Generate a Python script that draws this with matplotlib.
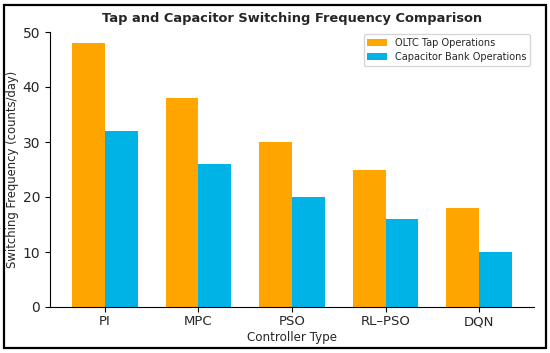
import numpy as np
import matplotlib
matplotlib.use('Agg')
import matplotlib.pyplot as plt
from matplotlib.patches import Rectangle

controllers = ['PI', 'MPC', 'PSO', 'RL–PSO', 'DQN']
tap_ops = [48, 38, 30, 25, 18]
cap_ops = [32, 26, 20, 16, 10]

txt = '#262626'
plt.rcParams['text.color'] = txt
plt.rcParams['axes.labelcolor'] = txt
plt.rcParams['xtick.labelcolor'] = txt
plt.rcParams['ytick.labelcolor'] = txt

fig = plt.figure(figsize=(5.5, 3.53), dpi=100)
ax = fig.add_axes([50 / 550, 1 - 307 / 353, 484 / 550, 275 / 353])

x = np.arange(len(controllers))
w = 0.35
ax.bar(x - w / 2, tap_ops, w, color='#FFA500', label='OLTC Tap Operations')
ax.bar(x + w / 2, cap_ops, w, color='#00B3E6', label='Capacitor Bank Operations')

ax.set_xticks(x)
ax.set_xticklabels(controllers, fontsize=9.5)
ax.tick_params(axis='y', labelsize=10)
ax.tick_params(axis='x', pad=2.5)
ax.set_ylim(0, 50)
ax.set_yticks([0, 10, 20, 30, 40, 50])
ax.set_xlabel('Controller Type', fontsize=8.6, labelpad=2)
ax.set_ylabel('Switching Frequency (counts/day)', fontsize=8.4)
ax.yaxis.set_label_coords(-0.065, 0.5)
ax.set_title('Tap and Capacitor Switching Frequency Comparison', fontsize=9.4, fontweight='bold', pad=7)
ax.spines['top'].set_visible(False)
ax.spines['right'].set_visible(False)
ax.legend(fontsize=7, loc='upper right', bbox_to_anchor=(530 / 550, 1 - 34 / 353),
          bbox_transform=fig.transFigure, borderaxespad=0, labelspacing=0.4)

fig.patches.append(Rectangle((0.008, 0.013), 0.984, 0.974, transform=fig.transFigure,
                             fill=False, edgecolor='black', linewidth=1.6))

fig.savefig('out.png', dpi=100)
